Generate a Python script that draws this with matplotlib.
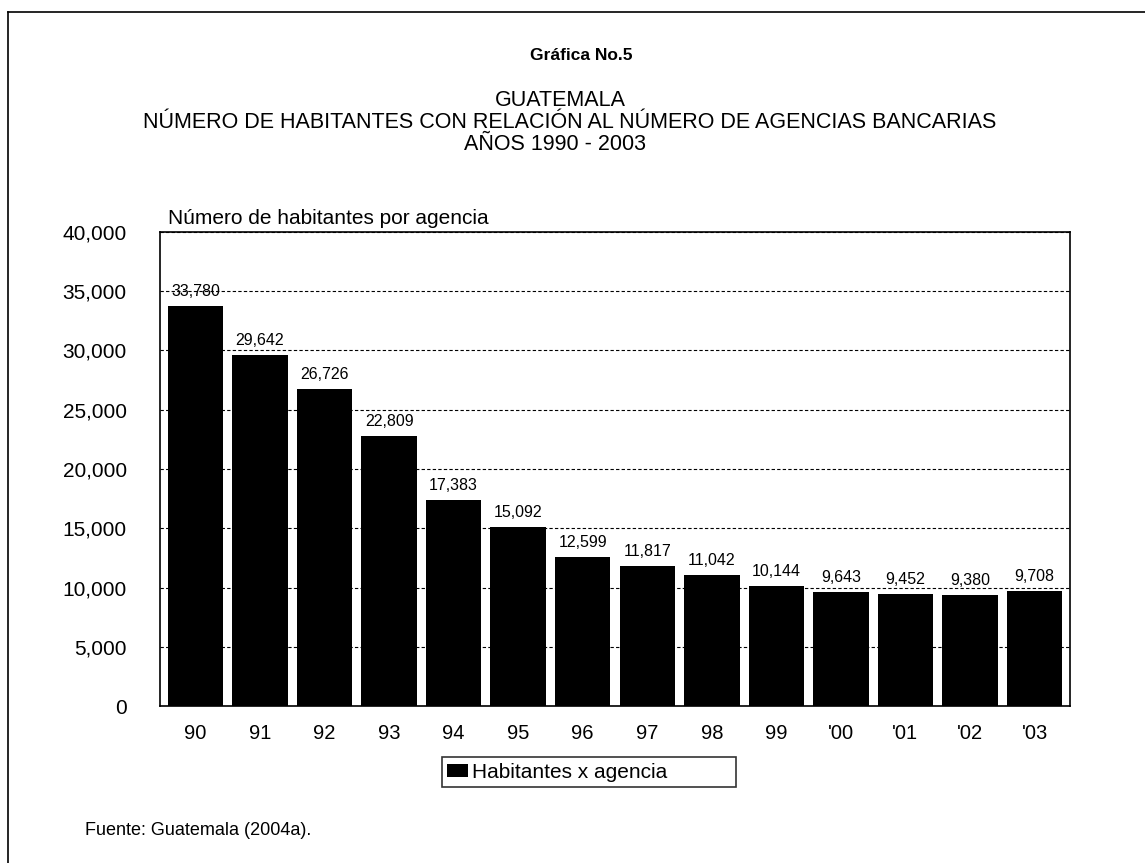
import matplotlib
matplotlib.use("Agg")
import matplotlib.pyplot as plt
from matplotlib.lines import Line2D
import numpy as np

plt.rcParams['font.family'] = ['Liberation Sans', 'DejaVu Sans']

years = ["90", "91", "92", "93", "94", "95", "96", "97", "98", "99", "'00", "'01", "'02", "'03"]
habitantes = [33780, 29642, 26726, 22809, 17383, 15092, 12599, 11817, 11042, 10144, 9643, 9452, 9380, 9708]
yticks = [0, 5000, 10000, 15000, 20000, 25000, 30000, 35000, 40000]
serie = "Habitantes x agencia"

fig = plt.figure(figsize=(11.45, 8.63), dpi=100)
W, H = 1145, 863
ax = fig.add_axes([160 / W, 1 - 706 / H, (1070 - 160) / W, (706 - 232) / H])

x = np.arange(len(years))
bars = ax.bar(x, habitantes, width=0.86, color='black', zorder=3)

for xi, v in zip(x, habitantes):
    ax.annotate(f"{v:,}", (xi, v), xytext=(0, 5), textcoords='offset points',
                ha='center', va='bottom', fontsize=11.5, zorder=4)

ax.set_ylim(0, 40000)
ax.set_xlim(-0.55, len(years) - 0.45)
ax.set_yticks(yticks)
ax.set_yticklabels([f"{t:,}" for t in yticks], fontsize=15)
ax.set_xticks(x)
ax.set_xticklabels(years, fontsize=14.5)
ax.tick_params(axis='x', length=0, pad=13)
ax.tick_params(axis='y', length=0, pad=24)
ax.yaxis.grid(True, linestyle=(0, (3, 2)), color='black', linewidth=0.8, zorder=0)
for s in ax.spines.values():
    s.set_linewidth(1.2)

ax.text(8 / 910, 1.008, "Número de habitantes por agencia", transform=ax.transAxes,
        ha='left', va='bottom', fontsize=15)

fig.text(581 / W, 1 - 55 / H, "Gráfica No.5", ha='center', va='center', fontsize=12.5, fontweight='bold')
fig.text(560 / W, 1 - 100 / H, "GUATEMALA", ha='center', va='center', fontsize=15.5)
fig.text(570 / W, 1 - 122 / H, "NÚMERO DE HABITANTES CON RELACIÓN AL NÚMERO DE AGENCIAS BANCARIAS",
         ha='center', va='center', fontsize=15.5)
fig.text(555 / W, 1 - 145 / H, "AÑOS 1990 - 2003", ha='center', va='center', fontsize=15.5)

# legend box is wider than its text in the original
leg = ax.legend([bars], [serie + " " * 11], loc='center',
                bbox_to_anchor=(589 / W, 1 - 772 / H), bbox_transform=fig.transFigure,
                fontsize=15, frameon=True, fancybox=False, edgecolor='black',
                handlelength=1.0, handleheight=0.6, handletextpad=0.2, borderpad=0.25,
                borderaxespad=0)
leg.get_frame().set_linewidth(1.2)

fig.text(85 / W, 1 - 830 / H, "Fuente: Guatemala (2004a).", ha='left', va='center', fontsize=13)

# scanned page edge: only top and left lines show
top_y = 1 - 12 / H
left_x = 8 / W
fig.lines.append(Line2D([left_x, 1.0], [top_y, top_y], transform=fig.transFigure,
                        color='black', linewidth=1.2))
fig.lines.append(Line2D([left_x, left_x], [0.0, top_y], transform=fig.transFigure,
                        color='black', linewidth=1.2))

fig.savefig("out.png", dpi=100)
